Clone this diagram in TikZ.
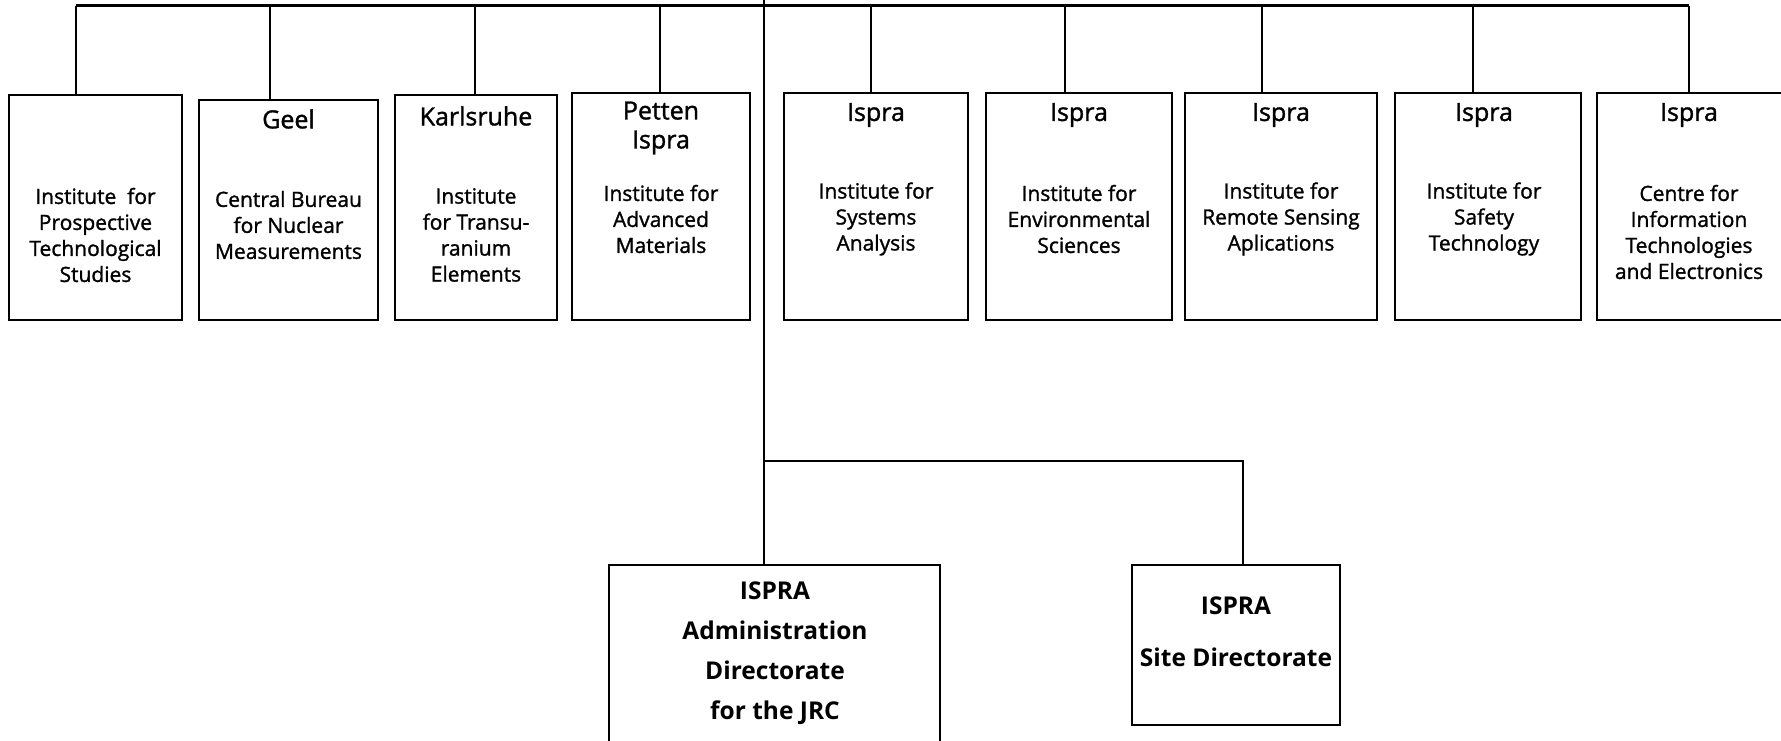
\documentclass[tikz,border=0pt]{standalone}
\usepackage{fontspec}
\setmainfont{Open Sans}
\newfontface\medfont{Open Sans}[FakeBold=1.3]
\begin{document}
\begin{tikzpicture}[x=1pt,y=-1pt,
  box/.style={draw,line width=1.4pt,inner sep=0pt,outer sep=0pt},
  hdr/.style={align=center,font=\medfont\fontsize{25}{29}\selectfont},
  body/.style={align=center,font=\medfont\fontsize{21}{26}\selectfont},
  big/.style={align=center,font=\bfseries\fontsize{24.5}{40}\selectfont},
  conn/.style={line width=1.4pt},
  bus/.style={line width=3pt}]
\useasboundingbox (0,0) rectangle (1781,741);
\clip (0,0) rectangle (1781,741);
% top boxes
\node[box,minimum width=173pt,minimum height=225pt] (b1) at (95.5,207.5) {};
\node[box,minimum width=179pt,minimum height=220pt] (b2) at (288.5,210) {};
\node[box,minimum width=162pt,minimum height=225pt] (b3) at (476,207.5) {};
\node[box,minimum width=178pt,minimum height=227pt] (b4) at (661,206.5) {};
\node[box,minimum width=184pt,minimum height=227pt] (b5) at (876,206.5) {};
\node[box,minimum width=186pt,minimum height=227pt] (b6) at (1079,206.5) {};
\node[box,minimum width=192pt,minimum height=227pt] (b7) at (1281,206.5) {};
\node[box,minimum width=186pt,minimum height=227pt] (b8) at (1488,206.5) {};
\node[box,minimum width=190pt,minimum height=227pt] (b9) at (1692,206.5) {};
% texts
\node[body] (t1) at (95.5,235) {Institute~~for\\Prospective\\Technological\\Studies};
\node[hdr] (h2) at (288.5,119) {Geel};
\node[body] (t2) at (288.5,225) {Central Bureau\\for Nuclear\\Measurements};
\node[hdr] (h3) at (476,116) {Karlsruhe};
\node[body] (t3) at (476,235) {Institute\\for Transu-\\ranium\\Elements};
\node[hdr] (h4) at (661,128) {Petten\\Ispra};
\node[body] (t4) at (661,219) {Institute for\\Advanced\\Materials};
\node[hdr] (h5) at (876,115) {Ispra};
\node[body] (t5) at (876,219) {Institute for\\Systems\\Analysis};
\node[hdr] (h6) at (1079,115) {Ispra};
\node[body] (t6) at (1079,219) {Institute for\\Environmental\\Sciences};
\node[hdr] (h7) at (1281,115) {Ispra};
\node[body] (t7) at (1281,219) {Institute for\\Remote Sensing\\Aplications};
\node[hdr] (h8) at (1484,115) {Ispra};
\node[body] (t8) at (1484,219) {Institute for\\Safety\\Technology};
\node[hdr] (h9) at (1689,115) {Ispra};
\node[body] (t9) at (1689,232) {Centre for\\Information\\Technologies\\and Electronics};
% bottom boxes
\node[box,minimum width=331pt,minimum height=200pt,anchor=north] (c1) at (774.5,565) {};
\node[box,minimum width=208pt,minimum height=160pt] (c2) at (1236,645) {};
\node[big] (u1) at (775,653) {ISPRA\\Administration\\Directorate\\for the JRC};
\node[big] (u2) at (1236,632) {ISPRA\\[12pt]Site Directorate};
% connectors
\coordinate (top) at (764,0);
\coordinate (busL) at (76,6);
\coordinate (busR) at (1689,6);
\coordinate (br) at (764,461);
\coordinate (brR) at (1243,461);
\draw[bus] (busL) -- (busR);
\draw[conn] (top) -- (br) -- (br |- c1.north);
\draw[conn] (br) -- (brR) -- (brR |- c2.north);
\foreach \n/\x in {1/76,2/270,3/475,4/660,5/871,6/1065,7/1262,8/1473,9/1689}{
  \coordinate (s\n) at (\x,6);
  \draw[conn] (s\n) -- (s\n |- b\n.north);
}
\end{tikzpicture}
\end{document}
